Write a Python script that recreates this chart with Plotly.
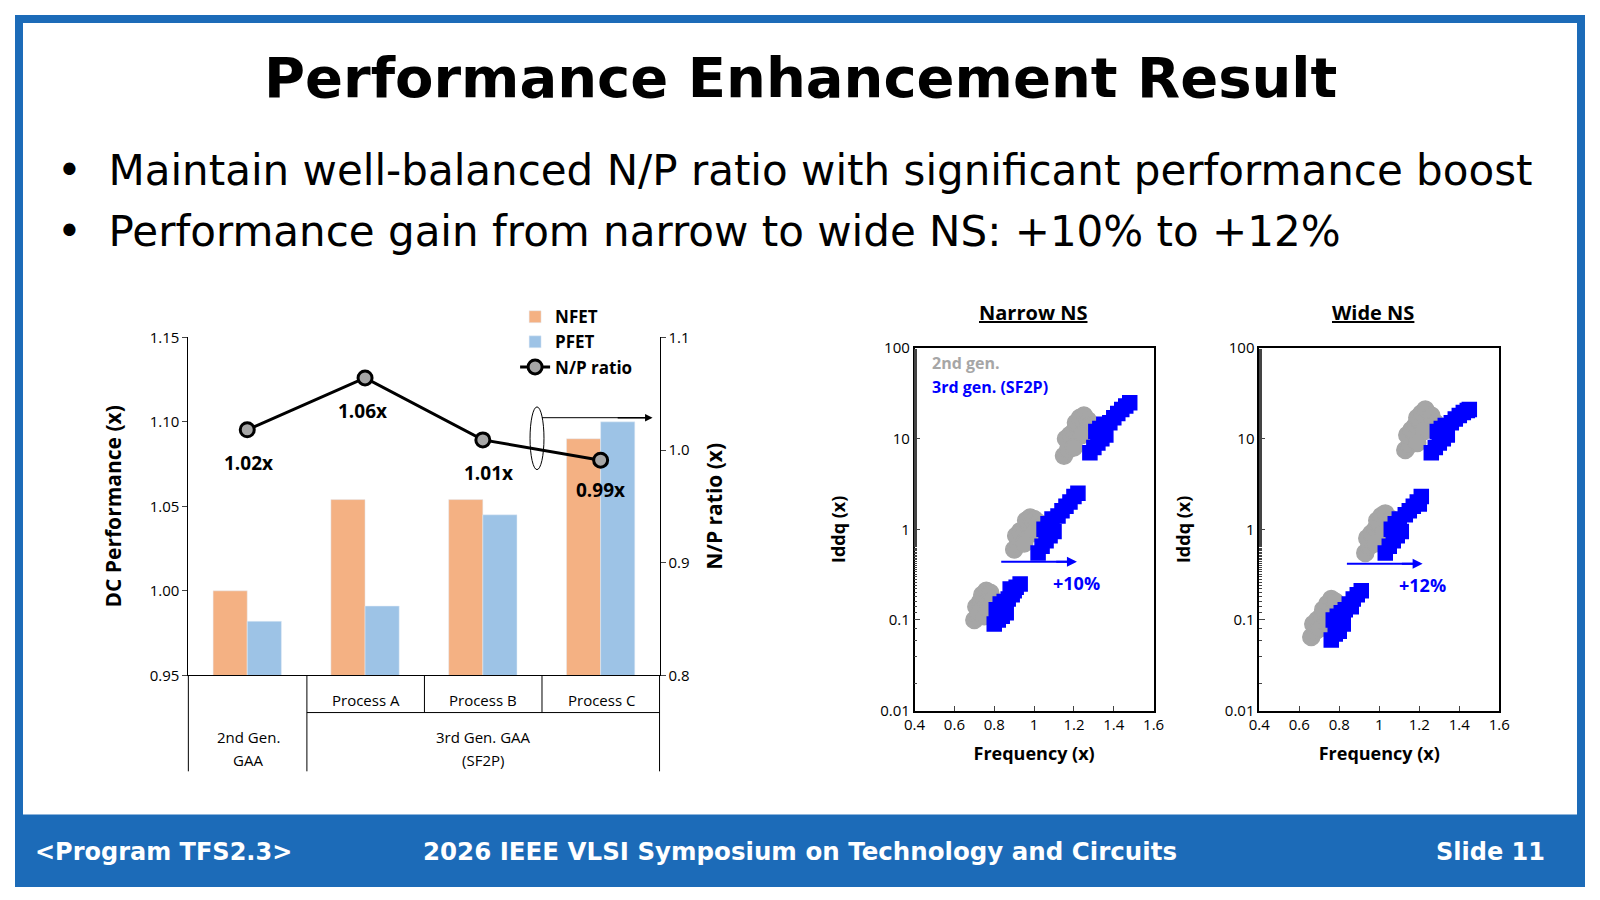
import plotly.graph_objects as go

W, H = 1568, 882
FW, FH = 1584, 884
def px(x): return x / W
def py(y): return 1 - y / H

categories = ["2nd Gen.", "Process A", "Process B", "Process C"]
nfet = [1.000, 1.054, 1.054, 1.090]
pfet = [0.982, 0.991, 1.045, 1.100]
np_ratio = [1.018, 1.064, 1.009, 0.991]
np_labels = ["1.02x", "1.06x", "1.01x", "0.99x"]

# Narrow NS clusters (frequency, Iddq)
n_gray_x = [0.70,0.72,0.74,0.71,0.73,0.75,0.77,0.74,0.76,0.78,0.79,0.72,0.75,0.77,
            0.90,0.92,0.94,0.91,0.93,0.95,0.97,0.96,0.98,1.00,1.02,1.03,0.99,0.95,
            1.15,1.17,1.19,1.16,1.18,1.20,1.22,1.21,1.23,1.25,1.27,1.28,1.24,1.20]
n_gray_y = [0.10,0.11,0.13,0.14,0.16,0.15,0.18,0.19,0.21,0.20,0.17,0.12,0.11,0.13,
            0.60,0.70,0.80,0.85,0.95,1.00,1.10,1.25,1.35,1.30,1.20,1.05,0.90,0.70,
            6.5,7.5,9.0,10.0,11.0,12.0,13.5,15.0,17.0,18.0,16.0,14.0,11.0,8.0]
n_blue_x = [0.80,0.82,0.84,0.86,0.81,0.83,0.85,0.87,0.89,0.88,0.91,0.93,0.90,0.84,
            1.02,1.04,1.06,1.08,1.10,1.05,1.07,1.09,1.12,1.14,1.16,1.18,1.20,1.22,
            1.28,1.30,1.32,1.34,1.36,1.31,1.33,1.35,1.38,1.40,1.42,1.44,1.46,1.48]
n_blue_y = [0.09,0.10,0.11,0.12,0.13,0.15,0.16,0.17,0.19,0.22,0.23,0.25,0.21,0.14,
            0.55,0.65,0.75,0.85,0.95,1.00,1.15,1.30,1.40,1.60,1.80,2.00,2.30,2.50,
            7.0,8.0,9.0,10.0,11.0,12.0,13.0,14.5,15.0,17.0,19.0,21.0,23.0,25.0]

# Wide NS clusters
w_gray_x = [0.66,0.68,0.70,0.67,0.69,0.71,0.73,0.72,0.74,0.76,0.78,0.70,0.74,0.76,
            0.93,0.95,0.97,0.94,0.96,0.98,1.00,0.99,1.01,1.03,1.06,1.08,1.02,0.98,
            1.13,1.15,1.17,1.14,1.16,1.18,1.20,1.19,1.21,1.23,1.26,1.28,1.22,1.19]
w_gray_y = [0.065,0.075,0.085,0.09,0.10,0.11,0.12,0.13,0.15,0.17,0.16,0.08,0.09,0.11,
            0.55,0.65,0.75,0.80,0.90,1.00,1.10,1.25,1.40,1.50,1.30,1.10,0.90,0.70,
            7.5,8.5,10.0,11.0,12.5,14.0,15.0,17.0,19.0,21.0,18.0,15.0,12.0,9.0]
w_blue_x = [0.76,0.78,0.80,0.82,0.77,0.79,0.81,0.83,0.85,0.87,0.89,0.91,0.86,0.80,
            1.03,1.05,1.07,1.09,1.11,1.06,1.08,1.10,1.13,1.15,1.17,1.19,1.21,1.20,
            1.26,1.28,1.30,1.32,1.34,1.29,1.31,1.33,1.36,1.38,1.40,1.42,1.44,1.45]
w_blue_y = [0.06,0.07,0.08,0.09,0.10,0.11,0.12,0.13,0.15,0.17,0.19,0.21,0.14,0.075,
            0.55,0.65,0.75,0.85,0.95,1.00,1.15,1.30,1.45,1.60,1.80,2.00,2.30,1.90,
            7.0,8.0,9.0,10.0,11.0,12.0,13.0,14.0,15.0,16.5,18.0,19.5,20.5,21.0]

BLUE = "#1c6bb8"
CF = "Open Sans"
fig = go.Figure()

fig.add_trace(go.Bar(x=categories, y=nfet, name="NFET", marker_color="#f4b183",
                     xaxis="x", yaxis="y", offsetgroup="n"))
fig.add_trace(go.Bar(x=categories, y=pfet, name="PFET", marker_color="#9dc3e6",
                     xaxis="x", yaxis="y", offsetgroup="p"))
fig.add_trace(go.Scatter(x=categories, y=np_ratio, name="N/P ratio", mode="lines+markers",
                         line=dict(color="black", width=3),
                         marker=dict(size=14, color="#a6a6a6", line=dict(color="black", width=3)),
                         xaxis="x", yaxis="y2"))

def sc(xs, ys, color, sym, xa, ya, size):
    fig.add_trace(go.Scatter(x=xs, y=ys, mode="markers", showlegend=False,
                             marker=dict(symbol=sym, size=size, color=color,
                                         line=dict(color=color, width=1.5)),
                             xaxis=xa, yaxis=ya))

sc(n_gray_x, n_gray_y, "#a6a6a6", "circle", "x3", "y3", 17)
sc(n_blue_x, n_blue_y, "#0000ff", "square", "x3", "y3", 14)
sc(w_gray_x, w_gray_y, "#a6a6a6", "circle", "x4", "y4", 17)
sc(w_blue_x, w_blue_y, "#0000ff", "square", "x4", "y4", 14)

tf = dict(family=CF, size=15, color="black")
ttf = dict(family=CF, size=21, color="black")
fig.update_layout(
    width=FW, height=FH, paper_bgcolor="white", plot_bgcolor="white",
    margin=dict(l=0, r=0, t=0, b=0), barmode="group", bargap=0.42, bargroupgap=0,
    showlegend=True,
    legend=dict(x=px(498), y=py(286), xanchor="left", yanchor="top",
                font=dict(family=CF, size=17, color="black", weight="bold"),
                bgcolor="rgba(0,0,0,0)", tracegroupgap=0, itemwidth=30),
    xaxis=dict(domain=[px(170), px(643)], anchor="y", showticklabels=False, ticks="",
               showline=True, linecolor="black", linewidth=1),
    yaxis=dict(domain=[py(670), py(325)], range=[0.95, 1.15], dtick=0.05, tickformat=".2f",
               showgrid=False, showline=True, linecolor="black", ticks="outside", ticklen=5,
               tickfont=tf, title=dict(text="<b>DC Performance (x)</b>", font=ttf, standoff=22)),
    yaxis2=dict(overlaying="y", side="right", anchor="x", range=[0.8, 1.1], dtick=0.1, tickformat=".1f",
                showgrid=False, showline=True, linecolor="black", ticks="outside", ticklen=5,
                tickfont=tf, title=dict(text="<b>N/P ratio (x)</b>", font=ttf, standoff=18)),
)
for xa, ya, x0, x1 in [("xaxis3", "yaxis3", 899, 1139), ("xaxis4", "yaxis4", 1245, 1486)]:
    fig.update_layout(**{
        xa: dict(domain=[px(x0), px(x1)], anchor=ya[0] + ya[-1:], range=[0.4, 1.6],
                 tickvals=[0.4,0.6,0.8,1.0,1.2,1.4,1.6], ticktext=["0.4","0.6","0.8","1","1.2","1.4","1.6"],
                 showgrid=False, mirror=True, showline=True, linecolor="black", linewidth=1.5,
                 ticks="inside", ticklen=5, tickfont=tf,
                 title=dict(text="<b>Frequency (x)</b>", font=dict(family=CF, size=18, color="black"), standoff=14)),
        ya: dict(domain=[py(706), py(336)], anchor="x" + xa[-1], type="log", range=[-2, 2],
                 tickvals=[0.01, 0.1, 1, 10, 100], ticktext=["0.01","0.1","1","10","100"],
                 showgrid=False, mirror=True, showline=True, linecolor="black", linewidth=1.5,
                 ticks="inside", ticklen=6, tickfont=tf,
                 minor=dict(ticks="inside", ticklen=3, showgrid=False),
                 title=dict(text="<b>Iddq (x)</b>", font=dict(family=CF, size=18, color="black"), standoff=30)),
    })

ann = []
def A(x, y, text, size, color="black", bold=False, xanchor="center", family=CF):
    ann.append(dict(x=px(x), y=py(y), xref="paper", yref="paper", text=("<b>%s</b>" % text) if bold else text,
                    showarrow=False, xanchor=xanchor, yanchor="middle",
                    font=dict(family=family, size=size, color=color)))

SF = "DejaVu Sans"
A(784, 60, "Performance Enhancement Result", 56, bold=True, family=SF)
A(36, 155, "•  Maintain well-balanced N/P ratio with significant performance boost", 42, xanchor="left", family=SF)
A(36, 217, "•  Performance gain from narrow to wide NS: +10% to +12%", 42, xanchor="left", family=SF)
A(14, 850, "&lt;Program TFS2.3&gt;", 24, "white", True, "left", SF)
A(784, 850, "2026 IEEE VLSI Symposium on Technology and Circuits", 24.5, "white", True, family=SF)
A(1534, 850, "Slide 11", 24, "white", True, "right", SF)
for x, y, t in [(230, 453, "1.02x"), (345, 400, "1.06x"), (471, 463, "1.01x"), (584, 481, "0.99x")]:
    A(x, y, t, 19, bold=True)
A(348, 695, "Process A", 15); A(466, 695, "Process B", 15); A(585, 695, "Process C", 15)
A(230, 733, "2nd Gen.", 15); A(230, 756, "GAA", 15)
A(466, 733, "3rd Gen. GAA", 15); A(466, 756, "(SF2P)", 15)
A(1018, 300, "<u>Narrow NS</u>", 20, bold=True)
A(1359, 300, "<u>Wide NS</u>", 20, bold=True)
A(915, 351, "2nd gen.", 16, "#a6a6a6", True, "left")
A(915, 376, "3rd gen. (SF2P)", 16, "#0000ff", True, "left")
A(1062, 576, "+10%", 18, "#0000ff", True)
A(1409, 578, "+12%", 18, "#0000ff", True)
fig.update_layout(annotations=ann)

shapes = [
    dict(type="rect", xref="paper", yref="paper", x0=0, x1=1, y0=0, y1=1, line=dict(color=BLUE, width=8)),
    dict(type="rect", xref="paper", yref="paper", x0=0, x1=1, y0=0, y1=py(812), fillcolor=BLUE, line=dict(width=0), layer="below"),
    dict(type="circle", xref="paper", yref="paper", x0=px(513), x1=px(527), y0=py(460), y1=py(396), line=dict(color="black", width=1)),
]
def L(x0, y0, x1, y1, color="black", w=1):
    shapes.append(dict(type="line", xref="paper", yref="paper", x0=px(x0), y0=py(y0), x1=px(x1), y1=py(y1),
                       line=dict(color=color, width=w)))
L(525, 407, 630, 407)
L(170, 670, 170, 768); L(289, 670, 289, 768); L(643, 670, 643, 768)
L(407, 670, 407, 708); L(525, 670, 525, 708); L(289, 708, 643, 708)
L(986, 554, 1056, 554, "#0000ff", 2); L(1333, 556, 1402, 556, "#0000ff", 2)
fig.update_layout(shapes=shapes)
arrows = [(636, 407, 600, "black"), (1062, 554, 1040, "#0000ff"), (1409, 556, 1387, "#0000ff")]
for x, y, xs, c in arrows:
    fig.add_annotation(x=px(x), y=py(y), ax=(xs - x) * FW / W, ay=0, xref="paper", yref="paper",
                       text="", showarrow=True, arrowhead=2,
                       arrowsize=1, arrowwidth=1.5 if c == "black" else 2, arrowcolor=c)

fig.write_html("out.html")
